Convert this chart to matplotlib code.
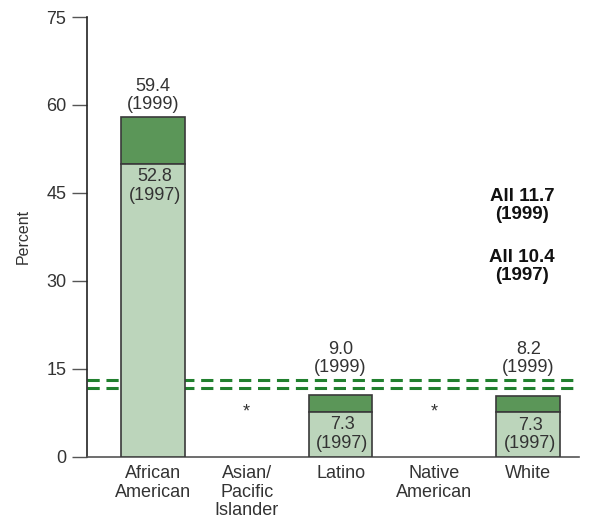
import matplotlib.pyplot as plt

plt.rcParams['font.family'] = ['Liberation Sans', 'DejaVu Sans']

categories = ['African\nAmerican', 'Asian/\nPacific\nIslander', 'Latino', 'Native\nAmerican', 'White']
# bar heights as drawn in the picture (None = no data, shown as *)
pct_1997 = [50.0, None, 7.7, None, 7.6]
pct_1999 = [58.0, None, 10.5, None, 10.3]
labels_1997 = ['52.8', None, '7.3', None, '7.3']
labels_1999 = ['59.4', None, '9.0', None, '8.2']
all_lines = [13.1, 11.7]
all_labels = ['All 11.7\n(1999)', 'All 10.4\n(1997)']
yticks = [0, 15, 30, 45, 60, 75]

dark = '#5b9658'
light = '#bcd5bb'
edge = '#3a3a3a'
txt = '#333333'
fs = 13

fig = plt.figure(figsize=(5.89, 5.27), dpi=100)
ax = fig.add_axes([0.148, 0.1334, 0.835, 0.8343])

x = list(range(len(categories)))
for i in x:
    if pct_1997[i] is None:
        ax.text(i, 7.6, '*', ha='center', va='center', fontsize=fs, color=txt)
        continue
    ax.bar(i, pct_1999[i] - pct_1997[i], bottom=pct_1997[i], width=0.68,
           color=dark, edgecolor=edge, linewidth=1.2, zorder=3)
    ax.bar(i, pct_1997[i], width=0.68, color=light, edgecolor=edge, linewidth=1.2, zorder=3)
    top = max(pct_1999[i] + 0.6, max(all_lines) + 0.6)
    ax.text(i, top, labels_1999[i] + '\n(1999)', ha='center', va='bottom',
            fontsize=fs, color=txt, linespacing=1.12, zorder=4)
    ax.text(i + 0.02, pct_1997[i] - 0.8, labels_1997[i] + '\n(1997)', ha='center', va='top',
            fontsize=fs, color=txt, linespacing=1.12, zorder=4)

for y in all_lines:
    ax.axhline(y, color='#21802e', linestyle=(0, (4, 2.2)), linewidth=2.2, zorder=2)

ax.text(0.884, 0.572, all_labels[0], transform=ax.transAxes, ha='center', va='center',
        fontsize=13.5, fontweight='bold', color='#111111', linespacing=1.1)
ax.text(0.884, 0.433, all_labels[1], transform=ax.transAxes, ha='center', va='center',
        fontsize=13.5, fontweight='bold', color='#111111', linespacing=1.1)

ax.set_xlim(-0.7, 4.54)
ax.set_ylim(0, 75)
ax.set_yticks(yticks)
ax.set_yticklabels([str(t) for t in yticks], fontsize=fs, color=txt)
ax.set_xticks(x)
ax.set_xticklabels(categories, fontsize=fs, color=txt, linespacing=1.12)
ax.tick_params(axis='x', length=0, pad=6)
ax.tick_params(axis='y', length=11, width=1, color='#555555', pad=4)
ax.set_ylabel('Percent', fontsize=11.5, color=txt, labelpad=11)

for s in ['top', 'right']:
    ax.spines[s].set_visible(False)
ax.spines['left'].set_color('#222222')
ax.spines['bottom'].set_color('#555555')
ax.spines['left'].set_linewidth(1.2)
ax.spines['bottom'].set_linewidth(1.2)

fig.savefig('out.png', dpi=100)
